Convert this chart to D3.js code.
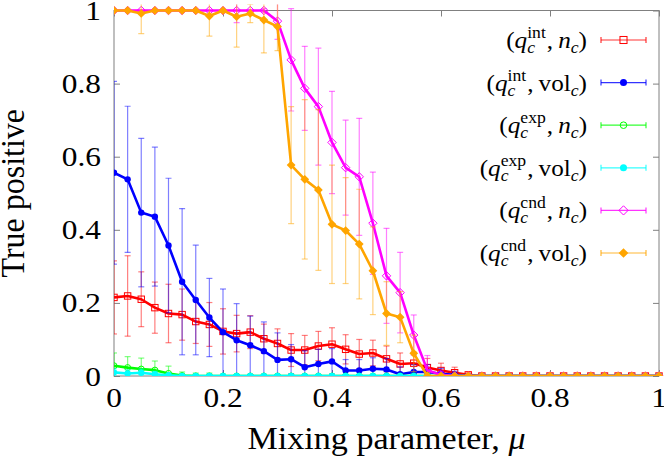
<!DOCTYPE html>
<html>
<head>
<meta charset="utf-8">
<script src="https://cdn.jsdelivr.net/npm/d3@7/dist/d3.min.js"></script>
<style>
html,body{margin:0;padding:0;background:#fff;}
svg{display:block;}
text{font-family:"Liberation Serif","Times New Roman",serif;fill:#000;}
</style>
</head>
<body>
<svg id="chart" width="664" height="461"></svg>
<script>
// ---- data ----
const mu = [0,0.025,0.05,0.075,0.1,0.125,0.15,0.175,0.2,0.225,0.25,0.275,0.3,0.325,0.35,0.375,0.4,0.425,0.45,0.475,0.5,0.525,0.55,0.575,0.6,0.625,0.65,0.675,0.7,0.725,0.75,0.775,0.8,0.825,0.85,0.875,0.9,0.925,0.95,0.975,1];

const intN    = [0.215,0.219,0.21,0.187,0.171,0.168,0.149,0.141,0.122,0.116,0.12,0.102,0.089,0.071,0.071,0.082,0.087,0.073,0.06,0.063,0.047,0.033,0.035,0.023,0.015,0.009,0.003,0,0,0,0,0,0,0,0,0,0,0,0,0,0];
const intNErr = [0.1,0.11,0.075,0.07,0.08,0.07,0.06,0.06,0.062,0.05,0.045,0.04,0.04,0.045,0.04,0.04,0.045,0.04,0.04,0.035,0.035,0.03,0.03,0.025,0.02,0.015,0.008,0,0,0,0,0,0,0,0,0,0,0,0,0,0];

const intVol    = [0.556,0.538,0.447,0.436,0.357,0.258,0.208,0.16,0.12,0.098,0.084,0.068,0.044,0.046,0.024,0.033,0.04,0.015,0.015,0.02,0.018,0.005,0.011,0.011,0.006,0.003,0,0,0,0,0,0,0,0,0,0,0,0,0,0,0];
const intVolErr = [0.25,0.2,0.203,0.19,0.184,0.2,0.15,0.107,0.118,0.1,0.08,0.08,0.074,0.04,0.045,0.04,0.035,0.03,0.03,0.03,0.03,0.02,0.02,0.02,0.015,0.01,0,0,0,0,0,0,0,0,0,0,0,0,0,0,0];

const expN    = [0.028,0.023,0.019,0.016,0.007,0.001,0,0,0,0,0,0,0,0,0,0,0,0,0,0,0,0,0,0,0,0,0,0,0,0,0,0,0,0,0,0,0,0,0,0,0];
const expNErr = [0.035,0.03,0.03,0.025,0.02,0.01,0.008,0.008,0.003,0.003,0.003,0.003,0.003,0.003,0.003,0.003,0.003,0.003,0.003,0.003,0.003,0.003,0.003,0.003,0,0,0,0,0,0,0,0,0,0,0,0,0,0,0,0,0];

const expVol    = [0.01,0.007,0.009,0.005,0.002,0,0,0,0,0,0,0,0,0,0,0,0,0,0,0,0,0,0,0,0,0,0,0,0,0,0,0,0,0,0,0,0,0,0,0,0];
const expVolErr = [0.01,0.01,0.01,0.008,0.005,0.003,0.003,0.003,0.003,0.003,0.003,0.003,0.003,0.003,0.003,0.003,0.003,0.003,0.003,0.003,0.003,0.003,0.003,0.003,0,0,0,0,0,0,0,0,0,0,0,0,0,0,0,0,0];

const cndN    = [1,1,1,1,1,1,1,1,1,1,1,1,0.971,0.865,0.787,0.737,0.639,0.57,0.545,0.418,0.274,0.228,0.112,0.016,0.003,0,0,0,0,0,0,0,0,0,0,0,0,0,0,0,0];
const cndNErr = [0,0,0,0,0,0,0,0,0,0.033,0,0.005,0.05,0.14,0.115,0.16,0.14,0.13,0.16,0.14,0.13,0.11,0.055,0.04,0.01,0,0,0,0,0,0,0,0,0,0,0,0,0,0,0,0];

const cndVol    = [1,1,0.992,1,1,1,1,0.985,1,0.983,0.992,0.974,0.956,0.577,0.538,0.509,0.415,0.398,0.361,0.288,0.171,0.161,0.062,0,0,0,0,0,0,0,0,0,0,0,0,0,0,0,0,0,0];
const cndVolErr = [0,0,0.055,0,0,0,0,0.055,0,0.083,0.025,0.09,0.066,0.16,0.218,0.22,0.162,0.145,0.15,0.12,0.087,0.07,0.05,0.01,0,0,0,0,0,0,0,0,0,0,0,0,0,0,0,0,0];

const seriesSup    = ["int","int","exp","exp","cnd","cnd"];
const seriesSecond = ["n","vol","n","vol","n","vol"];
const seriesColors = ["#ff0000","#0000ff","#00ff00","#00ffff","#ff00ff","#ffa500"];
const seriesMarkers= ["openSquare","filledCircle","openCircle","filledCircle","openDiamond","filledDiamond"];
const seriesValues = [intN,intVol,expN,expVol,cndN,cndVol];
const seriesErrors = [intNErr,intVolErr,expNErr,expVolErr,cndNErr,cndVolErr];

const xTicks = [0,0.2,0.4,0.6,0.8,1];
const xTickLabels = ["0","0.2","0.4","0.6","0.8","1"];
const yTicks = [0,0.2,0.4,0.6,0.8,1];
const yTickLabels = ["0","0.2","0.4","0.6","0.8","1"];
const xTitle = "Mixing parameter, ";
const xTitleSym = "\u03bc";
const yTitle = "True positive";

// ---- layout ----
const L = 114, R = 659, T = 10.5, B = 376;
const TICK_FS = 28, TITLE_FS = 31, LEG_FS = 24, HSCALE = 1.12;
const svg = d3.select("#chart");
const x = d3.scaleLinear().domain([0,1]).range([L,R]);
const y = d3.scaleLinear().domain([0,1]).range([B,T]);

svg.append("defs").append("clipPath").attr("id","clip")
  .append("rect").attr("x",L).attr("y",T-6).attr("width",R-L+6).attr("height",B-T+6);

const frameColor = "#808080";

// axes: inward ticks on all four sides
const gx = svg.append("g").attr("transform",`translate(0,${B})`)
  .call(d3.axisBottom(x).tickValues(xTicks).tickFormat("").tickSizeInner(-6).tickSizeOuter(0));
const gxt = svg.append("g").attr("transform",`translate(0,${T})`)
  .call(d3.axisTop(x).tickValues(xTicks).tickFormat("").tickSizeInner(-6).tickSizeOuter(0));
const gy = svg.append("g").attr("transform",`translate(${L},0)`)
  .call(d3.axisLeft(y).tickValues(yTicks).tickFormat("").tickSizeInner(-6).tickSizeOuter(0));
const gyr = svg.append("g").attr("transform",`translate(${R},0)`)
  .call(d3.axisRight(y).tickValues(yTicks).tickFormat("").tickSizeInner(-6).tickSizeOuter(0));
[gx,gxt,gy,gyr].forEach(g=>{
  g.select(".domain").remove();
  g.selectAll(".tick line").attr("stroke",frameColor).attr("stroke-width",1);
  g.selectAll(".tick text").remove();
});

// tick labels
svg.append("g").selectAll("text").data(xTicks).join("text")
  .attr("transform",(d)=>`translate(${x(d)},${B+31}) scale(${HSCALE},1)`)
  .attr("text-anchor","middle").attr("font-size",TICK_FS)
  .text((d,i)=>xTickLabels[i]);
svg.append("g").selectAll("text").data(yTicks).join("text")
  .attr("transform",(d)=>`translate(${L-13},${y(d)+9.5}) scale(${HSCALE},1)`)
  .attr("text-anchor","end").attr("font-size",TICK_FS)
  .text((d,i)=>yTickLabels[i]);

// frame
svg.append("rect").attr("x",L).attr("y",T).attr("width",R-L).attr("height",B-T)
  .attr("fill","none").attr("stroke",frameColor).attr("stroke-width",1);

// axis titles
const xt = svg.append("text").attr("transform",`translate(${(L+R)/2},449) scale(1.1,1)`)
  .attr("text-anchor","middle").attr("font-size",TITLE_FS);
xt.append("tspan").text(xTitle);
xt.append("tspan").attr("font-style","italic").text(xTitleSym);
svg.append("text").attr("transform",`translate(24,${(T+B)/2}) rotate(-90) scale(1,1.05)`)
  .attr("text-anchor","middle").attr("font-size",32).text(yTitle);

// marker drawing
function drawMarker(g, type, cx, cy, color, scale){
  const s = scale||1;
  if(type==="openSquare"){
    g.append("rect").attr("x",cx-3.2*s).attr("y",cy-3.2*s).attr("width",6.4*s).attr("height",6.4*s)
      .attr("fill","none").attr("stroke",color).attr("stroke-width",1);
  } else if(type==="filledCircle"){
    g.append("circle").attr("cx",cx).attr("cy",cy).attr("r",3.2*s).attr("fill",color);
  } else if(type==="openCircle"){
    g.append("circle").attr("cx",cx).attr("cy",cy).attr("r",3*s).attr("fill","none").attr("stroke",color).attr("stroke-width",1);
  } else if(type==="openDiamond"){
    const r=4.2*s;
    g.append("path").attr("d",`M${cx},${cy-r}L${cx+r},${cy}L${cx},${cy+r}L${cx-r},${cy}Z`)
      .attr("fill","none").attr("stroke",color).attr("stroke-width",1);
  } else if(type==="filledDiamond"){
    const r=4.4*s;
    g.append("path").attr("d",`M${cx},${cy-r}L${cx+r},${cy}L${cx},${cy+r}L${cx-r},${cy}Z`).attr("fill",color);
  }
}

// series
const plot = svg.append("g").attr("clip-path","url(#clip)");
const line = d3.line().x(d=>x(d[0])).y(d=>y(d[1]));
seriesValues.forEach((vals,si)=>{
  const color = seriesColors[si];
  const errs = seriesErrors[si];
  const g = plot.append("g");
  const pts = mu.map((m,i)=>[m,vals[i],errs[i]]);
  const eb = g.append("g").attr("stroke",color).attr("stroke-opacity",0.5).attr("stroke-width",1.2);
  pts.forEach(p=>{
    if(p[2]<=0) return;
    const px=x(p[0]), y1=y(p[1]+p[2]), y2=y(p[1]-p[2]);
    eb.append("line").attr("x1",px).attr("x2",px).attr("y1",y1).attr("y2",y2);
    eb.append("line").attr("x1",px-3).attr("x2",px+3).attr("y1",y1).attr("y2",y1);
    eb.append("line").attr("x1",px-3).attr("x2",px+3).attr("y1",y2).attr("y2",y2);
  });
  g.append("path").datum(pts).attr("d",line).attr("fill","none").attr("stroke",color).attr("stroke-width",2.6).attr("stroke-linejoin","round");
  const mg = g.append("g");
  pts.forEach(p=>drawMarker(mg, seriesMarkers[si], x(p[0]), y(p[1]), color, 1));
});

// legend
const legend = svg.append("g");
const textRight = 587, sampleL = 601, sampleR = 646;
seriesSup.forEach((sup,i)=>{
  const cy = 40 + i*42.6;
  const color = seriesColors[i];
  const t = legend.append("text").attr("font-size",LEG_FS);
  t.append("tspan").text("(");
  t.append("tspan").attr("font-style","italic").text("q");
  const supT = t.append("tspan").attr("font-size",LEG_FS*0.7).attr("dy",-10).text(sup);
  const subT = t.append("tspan").attr("font-size",LEG_FS*0.7).attr("font-style","italic").attr("dy",15).text("c");
  const wSup = supT.node().getComputedTextLength();
  const wSub = subT.node().getComputedTextLength();
  subT.attr("dx",-wSup);
  t.append("tspan").attr("dy",-5).attr("dx",Math.max(wSup-wSub,0)+1).text(",\u2009");
  if(seriesSecond[i]==="n") t.append("tspan").attr("font-style","italic").text("n");
  else t.append("tspan").text("vol");
  t.append("tspan").attr("font-size",LEG_FS*0.7).attr("font-style","italic").attr("dy",5).text("c");
  t.append("tspan").attr("dy",-5).text(")");
  const bb = t.node().getBBox();
  t.attr("transform",`translate(${textRight - (bb.x+bb.width)*1.05},${cy+8}) scale(1.05,1)`);
  const sg = legend.append("g").attr("stroke",color).attr("stroke-width",1.2).attr("stroke-opacity",0.8);
  sg.append("line").attr("x1",sampleL).attr("x2",sampleR).attr("y1",cy).attr("y2",cy);
  sg.append("line").attr("x1",sampleL).attr("x2",sampleL).attr("y1",cy-3).attr("y2",cy+3);
  sg.append("line").attr("x1",sampleR).attr("x2",sampleR).attr("y1",cy-3).attr("y2",cy+3);
  drawMarker(legend, seriesMarkers[i], (sampleL+sampleR)/2, cy, color, 1.1);
});
</script>
</body>
</html>
